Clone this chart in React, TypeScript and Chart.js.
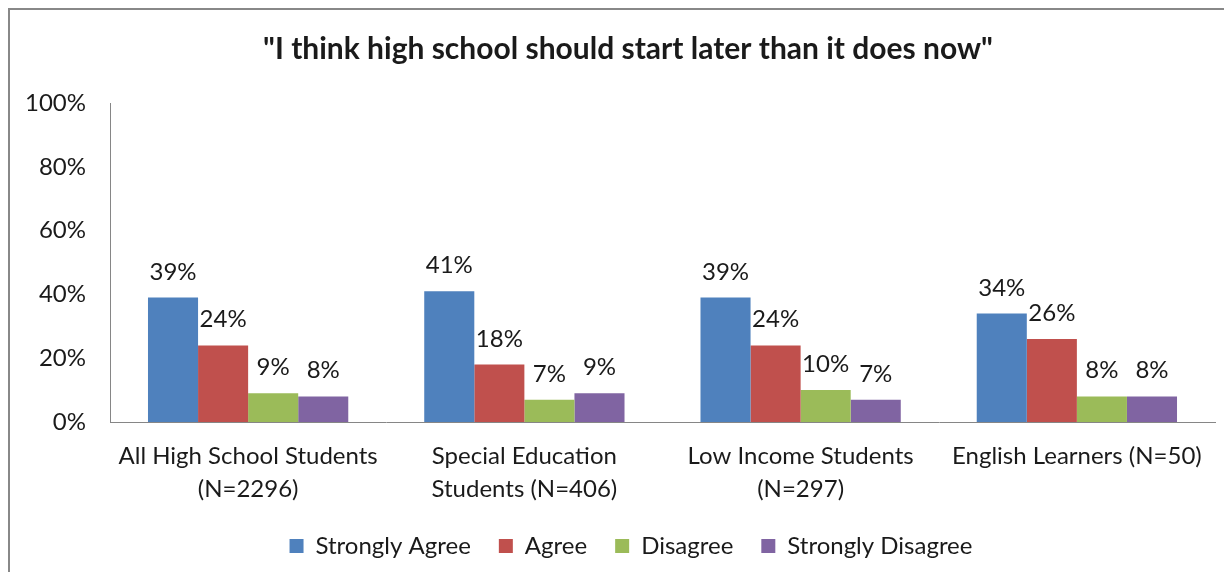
import React, { useEffect, useRef } from "react";
import { Chart, registerables } from "chart.js";

Chart.register(...registerables);

const titleText = '"I think high school should start later than it does now"';
const categories: (string | string[])[] = [
  ["All High School Students", "(N=2296)"],
  ["Special Education", "Students (N=406)"],
  ["Low Income Students", "(N=297)"],
  "English Learners (N=50)",
];
const seriesNames = ["Strongly Agree", "Agree", "Disagree", "Strongly Disagree"];
const stronglyAgree = [39, 41, 39, 34];
const agree = [24, 18, 24, 26];
const disagree = [9, 7, 10, 8];
const stronglyDisagree = [8, 9, 7, 8];
const seriesColors = ["#4F81BD", "#C0504D", "#9BBB59", "#8064A2"];
const yTicks = [0, 20, 40, 60, 80, 100];

const FONT = "Lato, 'Open Sans', sans-serif";
const TEXT = "#1a1a1a";

const valueLabels = {
  id: "valueLabels",
  afterDatasetsDraw(chart: any) {
    const ctx = chart.ctx;
    ctx.save();
    ctx.font = `24px ${FONT}`;
    ctx.fillStyle = TEXT;
    ctx.textAlign = "center";
    ctx.textBaseline = "alphabetic";
    chart.data.datasets.forEach((ds: any, i: number) => {
      const meta = chart.getDatasetMeta(i);
      meta.data.forEach((el: any, j: number) => {
        ctx.fillText(`${ds.data[j]}%`, el.x, el.y - 18);
      });
    });
    ctx.restore();
  },
};

const legendShift = {
  id: "legendShift",
  afterLayout(chart: any) {
    if (chart.legend) {
      chart.legend.left += 3;
      chart.legend.right += 3;
    }
  },
};

export default function App() {
  const ref = useRef<HTMLCanvasElement>(null);
  useEffect(() => {
    if (!ref.current) return;
    const seriesData = [stronglyAgree, agree, disagree, stronglyDisagree];
    const chart = new Chart(ref.current, {
      type: "bar",
      data: {
        labels: categories,
        datasets: seriesNames.map((name, i) => ({
          label: name,
          data: seriesData[i],
          backgroundColor: seriesColors[i],
          borderWidth: 0,
          barPercentage: 1,
          categoryPercentage: 0.725,
        })),
      },
      options: {
        animation: false,
        responsive: false,
        maintainAspectRatio: false,
        layout: { padding: { left: 0, right: 0, top: 0, bottom: 4 } },
        plugins: {
          title: {
            display: true,
            text: titleText,
            color: TEXT,
            font: { family: FONT, size: 30, weight: "bold", lineHeight: 1.2 },
            padding: { top: 21, bottom: 36 },
          },
          legend: {
            position: "bottom",
            labels: {
              color: TEXT,
              font: { family: FONT, size: 24 },
              boxWidth: 14,
              boxHeight: 14,
              padding: 28,
            },
          },
          tooltip: { enabled: false },
        },
        scales: {
          x: {
            afterFit: (scale: any) => {
              scale.height = 84;
            },
            grid: { display: false, drawTicks: false },
            border: { display: true, color: "#868686", width: 1 },
            ticks: {
              color: TEXT,
              font: { family: FONT, size: 24, lineHeight: 1.375 },
              padding: 18,
              maxRotation: 0,
              autoSkip: false,
            },
          },
          y: {
            min: 0,
            max: 100,
            afterFit: (scale: any) => {
              scale.width = 100;
            },
            afterBuildTicks: (scale: any) => {
              scale.ticks = yTicks.map((v) => ({ value: v }));
            },
            grid: { display: false, drawTicks: false },
            border: { display: true, color: "#868686", width: 1 },
            ticks: {
              color: TEXT,
              font: { family: FONT, size: 24 },
              padding: 24,
              callback: (v: any) => `${v}%`,
            },
          },
          rightSpacer: {
            type: "linear",
            position: "right",
            display: true,
            min: 0,
            max: 100,
            afterFit: (scale: any) => {
              scale.width = 31;
            },
            grid: { display: false, drawTicks: false },
            border: { display: false },
            ticks: { display: false },
          },
        },
      },
      plugins: [valueLabels, legendShift],
    });
    return () => chart.destroy();
  }, []);
  return (
    <div
      style={{
        width: 1216,
        height: 564,
        boxSizing: "border-box",
        borderLeft: "2px solid #888",
        borderTop: "2px solid #888",
        background: "#fff",
        overflow: "hidden",
      }}
    >
      <canvas ref={ref} width={1236} height={562} style={{ display: "block" }} />
    </div>
  );
}
